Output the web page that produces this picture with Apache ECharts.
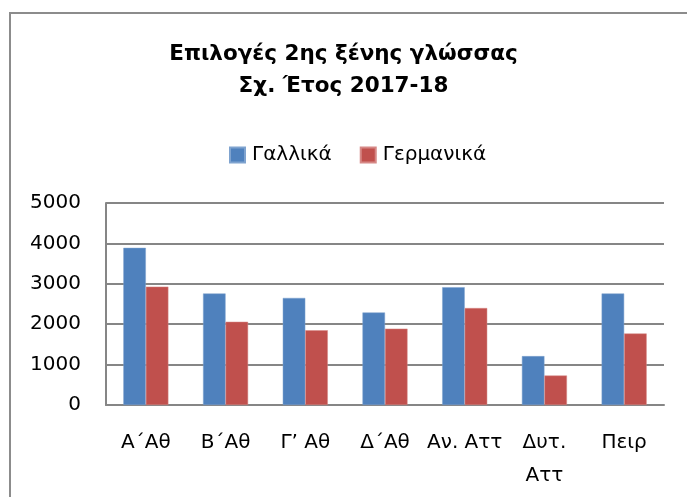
<!DOCTYPE html>
<html>
<head>
<meta charset="utf-8">
<script src="https://cdn.jsdelivr.net/npm/echarts@6/dist/echarts.min.js"></script>
<style>
  html, body { margin: 0; padding: 0; background: #fff; }
  #chart { width: 687px; height: 497px; }
</style>
</head>
<body>
<div id="chart"></div>
<script>
// δεδομένα
var categories = ['Α΄Αθ', 'Β΄Αθ', 'Γ’ Αθ', 'Δ΄Αθ', 'Αν. Αττ', 'Δυτ.\nΑττ', 'Πειρ']
var seriesNames = ['Γαλλικά', 'Γερμανικά']
var gallika = [3890, 2760, 2650, 2290, 2915, 1210, 2760]
var germanika = [2930, 2060, 1850, 1890, 2400, 730, 1770]

var FONT = 'DejaVu Sans'
var chart = echarts.init(document.getElementById('chart'))

var option = {
    backgroundColor: '#fff',
    animation: false,
    title: {
        text: 'Επιλογές 2ης ξένης γλώσσας\nΣχ. Έτος 2017-18',
        left: 'center',
        top: 33,
        textStyle: {
            fontFamily: FONT,
            fontSize: 21.5,
            fontWeight: 'bold',
            color: '#000',
            lineHeight: 32
        }
    },
    legend: {
        data: seriesNames,
        top: 140,
        left: 224,
        itemWidth: 15,
        itemHeight: 15,
        itemGap: 28,
        icon: 'rect',
        textStyle: { fontFamily: FONT, fontSize: 20, color: '#000', padding: [0, 0, 0, 2] }
    },
    grid: { left: 106, right: 23, top: 203, bottom: 92 },
    xAxis: {
        type: 'category',
        data: categories,
        axisLine: { lineStyle: { color: '#868686', width: 2 } },
        axisTick: { show: false },
        axisLabel: {
            fontFamily: FONT,
            fontSize: 20,
            color: '#000',
            margin: 21,
            lineHeight: 33,
            verticalAlign: 'top',
            interval: 0
        }
    },
    yAxis: {
        type: 'value',
        min: 0,
        max: 5000,
        interval: 1000,
        axisLine: { show: true, lineStyle: { color: '#868686', width: 2 } },
        axisTick: { show: false },
        splitLine: { lineStyle: { color: '#868686', width: 2 } },
        axisLabel: {
            fontFamily: FONT,
            fontSize: 20,
            color: '#000',
            margin: 25,
            formatter: function (v) { return String(v) }
        }
    },
    series: [
        {
            name: seriesNames[0],
            type: 'bar',
            data: gallika,
            barGap: '0%',
            barCategoryGap: '43.5%',
            itemStyle: { color: '#4F81BD', borderColor: '#7fa3cf', borderWidth: 0.5 }
        },
        {
            name: seriesNames[1],
            type: 'bar',
            data: germanika,
            itemStyle: { color: '#C0504D', borderColor: '#d68886', borderWidth: 0.5 }
        }
    ],
    graphic: [{
        type: 'rect',
        shape: { x: 10, y: 13, width: 700, height: 500 },
        style: { fill: 'none', stroke: '#8c8c8c', lineWidth: 2 },
        silent: true
    }]
}

chart.setOption(option)
</script>
</body>
</html>
